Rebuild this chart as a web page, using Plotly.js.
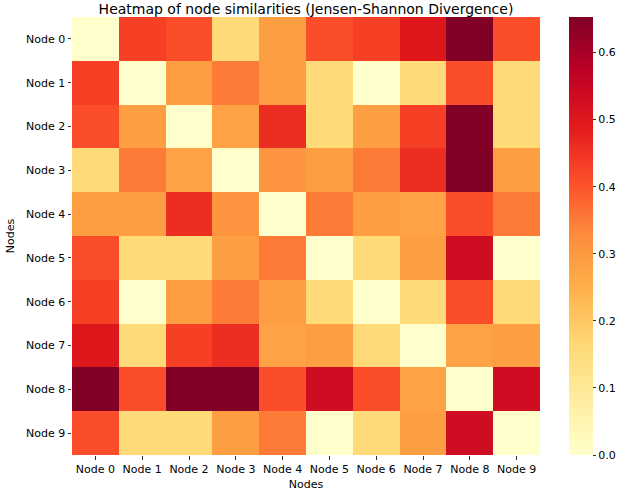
<!DOCTYPE html>
<html>
<head>
<meta charset="utf-8">
<script src="https://cdn.plot.ly/plotly-3.0.1.min.js"></script>
<style>html,body{margin:0;padding:0;background:#fff;}#chart{width:628px;height:492px;}</style>
</head>
<body>
<div id="chart"></div>
<script>
const nodes = ["Node 0","Node 1","Node 2","Node 3","Node 4","Node 5","Node 6","Node 7","Node 8","Node 9"];
const row0 = [0.00, 0.43, 0.41, 0.16, 0.29, 0.41, 0.43, 0.50, 0.653, 0.41];
const row1 = [0.43, 0.00, 0.29, 0.35, 0.29, 0.16, 0.00, 0.16, 0.41, 0.16];
const row2 = [0.41, 0.29, 0.00, 0.28, 0.46, 0.16, 0.29, 0.43, 0.653, 0.16];
const row3 = [0.16, 0.35, 0.28, 0.00, 0.31, 0.29, 0.35, 0.46, 0.653, 0.29];
const row4 = [0.29, 0.29, 0.46, 0.31, 0.00, 0.35, 0.29, 0.28, 0.41, 0.35];
const row5 = [0.41, 0.16, 0.16, 0.29, 0.35, 0.00, 0.16, 0.29, 0.535, 0.00];
const row6 = [0.43, 0.00, 0.29, 0.35, 0.29, 0.16, 0.00, 0.16, 0.41, 0.16];
const row7 = [0.50, 0.16, 0.43, 0.46, 0.28, 0.29, 0.16, 0.00, 0.28, 0.29];
const row8 = [0.653, 0.41, 0.653, 0.653, 0.41, 0.535, 0.41, 0.28, 0.00, 0.535];
const row9 = [0.41, 0.16, 0.16, 0.29, 0.35, 0.00, 0.16, 0.29, 0.535, 0.00];
const z = [row0,row1,row2,row3,row4,row5,row6,row7,row8,row9];

const ylorrd = [
  [0.0,'#ffffcc'],[0.125,'#ffeda0'],[0.25,'#fed976'],[0.375,'#feb24c'],
  [0.5,'#fd8d3c'],[0.625,'#fc4e2a'],[0.75,'#e31a1c'],[0.875,'#bd0026'],[1.0,'#800026']
];
const font = "DejaVu Sans, sans-serif";
const plotW = 548-72, plotH = 455-17;

Plotly.newPlot('chart', [{
  type:'heatmap', z:z, x:nodes, y:nodes,
  colorscale: ylorrd, zmin:0, zmax:0.653, xgap:0, ygap:0,
  colorbar:{
    x: 1 + 29/plotW, xanchor:'left', xpad:0, ypad:0,
    y:0.5, yanchor:'middle', len:1, lenmode:'fraction',
    thickness:24, outlinewidth:0,
    ticks:'outside', ticklen:3.5, tickwidth:0.8, tickcolor:'#000',
    tick0:0, dtick:0.1, tickformat:'.1f',
    tickfont:{family:font, size:11, color:'#000'}
  },
  hoverinfo:'skip'
}], {
  width:628, height:492,
  margin:{l:72, r:80, t:17, b:37, pad:0},
  paper_bgcolor:'#fff', plot_bgcolor:'#fff',
  font:{family:font, color:'#000'},
  title:{text:'Heatmap of node similarities (Jensen-Shannon Divergence)',
         font:{family:font, size:14, color:'#000'},
         x:0.5, xref:'paper', xanchor:'center', y:1-9/492, yref:'container', yanchor:'middle'},
  xaxis:{
    title:{text:'Nodes', font:{family:font, size:11, color:'#000'}, standoff:5},
    ticks:'outside', ticklen:3.5, tickwidth:0.8, tickcolor:'#000',
    tickfont:{family:font, size:11, color:'#000'},
    showgrid:false, zeroline:false, showline:false
  },
  yaxis:{
    title:{text:'Nodes', font:{family:font, size:11, color:'#000'}, standoff:9},
    autorange:'reversed',
    ticks:'outside', ticklen:3.5, tickwidth:0.8, tickcolor:'#000',
    tickfont:{family:font, size:11, color:'#000'},
    showgrid:false, zeroline:false, showline:false
  }
}, {displayModeBar:false, staticPlot:true});
</script>
</body>
</html>
